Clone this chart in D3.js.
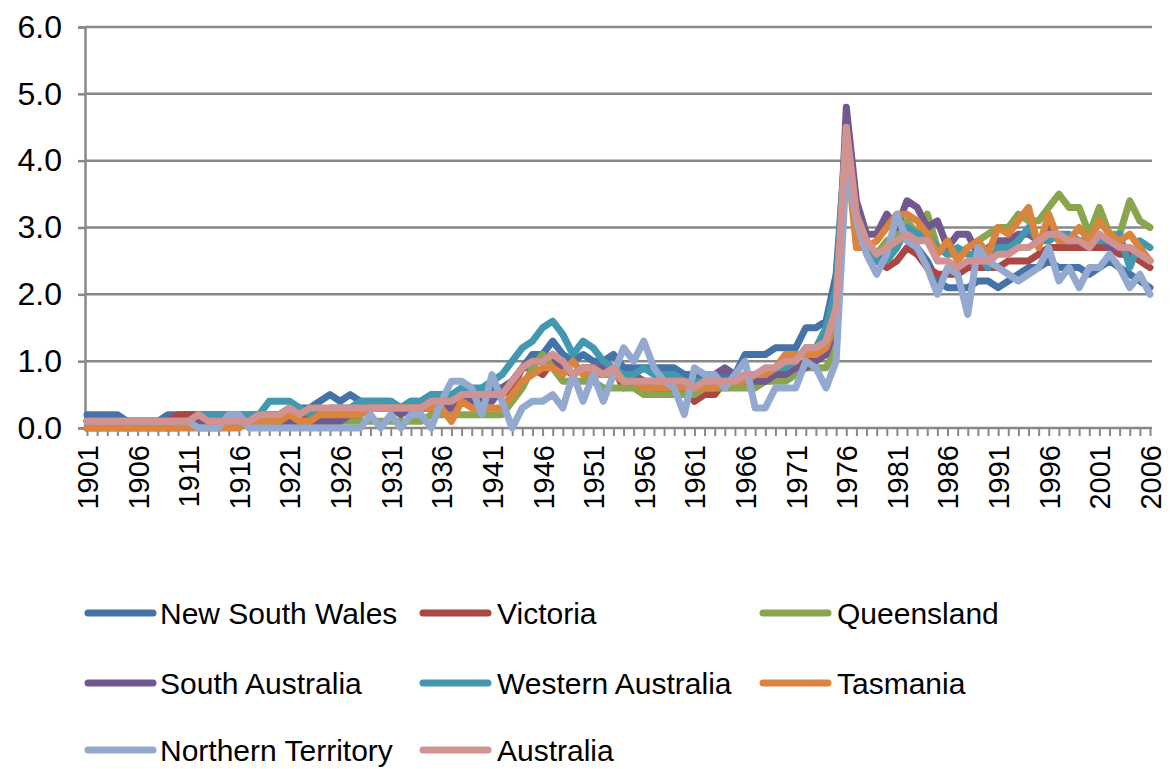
<!DOCTYPE html>
<html>
<head>
<meta charset="utf-8">
<script src="https://d3js.org/d3.v7.min.js"></script>
<style>
  body { margin: 0; padding: 0; background: #fff; }
  svg { display: block; font-family: "Liberation Sans", Arial, sans-serif; }
</style>
</head>
<body>
<div id="chart"></div>
<script>
// categories
const years = d3.range(1901, 2007);
const yearLabels = [1901, 1906, 1911, 1916, 1921, 1926, 1931, 1936, 1941, 1946, 1951,
  1956, 1961, 1966, 1971, 1976, 1981, 1986, 1991, 1996, 2001, 2006];
const yTicks = [0, 1, 2, 3, 4, 5, 6];

// series values, 1901-2006
const newSouthWales = [
  0.2,0.2,0.2,0.2,0.1,0.1,0.1,0.1,0.2,0.2,
  0.2,0.2,0.2,0.2,0.2,0.2,0.2,0.2,0.2,0.2,
  0.3,0.3,0.3,0.4,0.5,0.4,0.5,0.4,0.4,0.4,
  0.4,0.3,0.4,0.4,0.5,0.5,0.5,0.5,0.5,0.6,
  0.6,0.6,0.7,0.9,1.1,1.1,1.3,1.1,1.0,1.1,
  1.0,1.0,1.1,0.9,0.9,0.9,0.9,0.9,0.9,0.8,
  0.8,0.8,0.8,0.8,0.8,1.1,1.1,1.1,1.2,1.2,
  1.2,1.5,1.5,1.6,2.3,4.4,3.3,2.8,2.5,2.6,
  2.8,2.9,2.7,2.5,2.2,2.1,2.1,2.1,2.2,2.2,
  2.1,2.2,2.3,2.4,2.4,2.5,2.4,2.4,2.4,2.3,
  2.4,2.5,2.4,2.3,2.2,2.1];
const victoria = [
  0.1,0.1,0.1,0.1,0.1,0.1,0.1,0.1,0.1,0.2,
  0.2,0.2,0.2,0.2,0.2,0.1,0.1,0.2,0.2,0.2,
  0.2,0.2,0.2,0.2,0.2,0.2,0.3,0.3,0.3,0.3,
  0.3,0.3,0.3,0.3,0.3,0.3,0.3,0.4,0.4,0.5,
  0.5,0.5,0.6,0.9,0.9,0.8,1.0,0.9,0.8,0.9,
  0.9,0.8,0.9,0.6,0.7,0.7,0.7,0.7,0.7,0.6,
  0.4,0.5,0.5,0.7,0.7,0.7,0.7,0.8,0.8,0.9,
  0.9,1.0,1.0,1.2,1.5,4.3,3.2,2.8,2.5,2.4,
  2.5,2.7,2.6,2.4,2.3,2.3,2.3,2.4,2.4,2.4,
  2.4,2.5,2.5,2.5,2.6,2.7,2.7,2.7,2.7,2.7,
  2.7,2.7,2.6,2.6,2.5,2.4];
const queensland = [
  0.0,0.0,0.0,0.0,0.0,0.0,0.0,0.0,0.0,0.0,
  0.1,0.1,0.1,0.1,0.1,0.1,0.1,0.1,0.1,0.1,
  0.1,0.1,0.1,0.1,0.1,0.1,0.1,0.1,0.1,0.1,
  0.1,0.1,0.1,0.1,0.2,0.2,0.2,0.2,0.2,0.2,
  0.2,0.2,0.4,0.6,0.9,1.1,0.9,0.7,0.7,0.7,
  0.7,0.6,0.6,0.6,0.6,0.5,0.5,0.5,0.5,0.5,
  0.5,0.6,0.6,0.6,0.6,0.6,0.6,0.7,0.7,0.7,
  0.8,0.9,0.9,0.9,1.2,4.3,3.2,2.8,2.6,2.8,
  2.9,3.1,2.9,3.2,2.7,2.6,2.6,2.7,2.8,2.9,
  3.0,3.0,3.2,3.1,3.1,3.3,3.5,3.3,3.3,2.9,
  3.3,2.9,2.9,3.4,3.1,3.0];
const southAustralia = [
  0.0,0.1,0.1,0.1,0.1,0.1,0.1,0.1,0.0,0.1,
  0.1,0.1,0.1,0.1,0.1,0.1,0.1,0.1,0.1,0.1,
  0.1,0.1,0.1,0.1,0.1,0.1,0.2,0.2,0.3,0.3,
  0.3,0.2,0.3,0.3,0.3,0.3,0.3,0.4,0.4,0.4,
  0.4,0.6,0.7,0.9,1.0,1.0,1.1,0.9,0.8,0.9,
  0.9,0.9,0.9,0.8,0.8,0.7,0.6,0.6,0.6,0.6,
  0.7,0.7,0.8,0.9,0.8,0.7,0.7,0.7,0.8,0.8,
  0.9,0.9,1.0,1.1,1.5,4.8,3.4,2.9,2.9,3.2,
  3.0,3.4,3.3,3.0,3.1,2.7,2.9,2.9,2.6,2.7,
  2.8,2.8,2.9,2.9,2.8,3.0,2.8,2.8,2.8,2.7,
  2.9,2.7,2.7,2.7,2.6,2.5];
const westernAustralia = [
  0.1,0.1,0.1,0.1,0.1,0.1,0.1,0.1,0.1,0.1,
  0.1,0.2,0.2,0.2,0.2,0.2,0.2,0.2,0.4,0.4,
  0.4,0.3,0.2,0.2,0.3,0.3,0.3,0.4,0.4,0.4,
  0.4,0.3,0.4,0.4,0.5,0.5,0.5,0.6,0.6,0.6,
  0.7,0.8,1.0,1.2,1.3,1.5,1.6,1.4,1.1,1.3,
  1.2,1.0,0.9,0.8,0.8,0.9,0.8,0.8,0.8,0.7,
  0.7,0.7,0.7,0.7,0.7,0.8,0.8,0.8,0.9,0.9,
  1.0,1.2,1.2,1.5,2.1,4.4,3.2,2.7,2.5,2.5,
  2.7,3.0,2.9,2.9,2.7,2.6,2.7,2.6,2.6,2.4,
  2.7,2.7,2.8,3.0,2.8,2.8,2.9,2.9,2.8,2.8,
  2.8,2.8,2.9,2.4,2.8,2.7];
const tasmania = [
  0.0,0.0,0.0,0.0,0.0,0.0,0.0,0.0,0.0,0.0,
  0.0,0.0,0.0,0.0,0.0,0.0,0.1,0.1,0.1,0.1,
  0.2,0.1,0.1,0.2,0.2,0.2,0.2,0.2,0.3,0.3,
  0.3,0.3,0.3,0.3,0.3,0.3,0.1,0.4,0.3,0.3,
  0.3,0.3,0.5,0.7,0.8,0.9,0.9,0.8,1.0,0.8,
  0.8,0.8,0.8,0.7,0.7,0.6,0.6,0.6,0.6,0.6,
  0.6,0.6,0.6,0.7,0.7,0.7,0.8,0.8,0.9,1.1,
  1.1,1.1,1.1,1.2,1.6,4.2,2.7,2.7,2.8,3.0,
  3.2,3.2,3.1,2.9,2.6,2.8,2.5,2.7,2.8,2.6,
  3.0,2.9,3.1,3.3,2.7,3.2,2.8,2.8,3.0,2.8,
  3.1,2.9,2.8,2.9,2.7,2.5];
const northernTerritory = [
  0.1,0.1,0.1,0.1,0.1,0.1,0.1,0.1,0.1,0.1,
  0.1,0.0,0.0,0.0,0.2,0.2,0.0,0.0,0.0,0.0,
  0.0,0.0,0.0,0.0,0.0,0.0,0.0,0.0,0.2,0.0,
  0.2,0.0,0.2,0.2,0.0,0.4,0.7,0.7,0.6,0.2,
  0.8,0.4,0.0,0.3,0.4,0.4,0.5,0.3,0.8,0.4,
  0.8,0.4,0.8,1.2,1.0,1.3,0.9,0.7,0.6,0.2,
  0.9,0.8,0.8,0.6,0.8,1.0,0.3,0.3,0.6,0.6,
  0.6,1.0,0.9,0.6,1.0,3.9,3.1,2.6,2.3,2.6,
  3.2,2.8,2.7,2.4,2.0,2.4,2.3,1.7,2.7,2.5,
  2.4,2.3,2.2,2.3,2.4,2.7,2.2,2.4,2.1,2.4,
  2.4,2.6,2.4,2.1,2.3,2.0];
const australia = [
  0.1,0.1,0.1,0.1,0.1,0.1,0.1,0.1,0.1,0.1,
  0.1,0.2,0.1,0.1,0.1,0.1,0.1,0.2,0.2,0.2,
  0.3,0.2,0.3,0.3,0.3,0.3,0.3,0.3,0.3,0.3,
  0.3,0.3,0.3,0.3,0.4,0.4,0.4,0.5,0.5,0.5,
  0.5,0.5,0.7,0.9,1.0,1.0,1.1,1.0,0.8,0.9,
  0.9,0.8,0.9,0.7,0.7,0.7,0.7,0.7,0.7,0.7,
  0.6,0.7,0.7,0.7,0.7,0.8,0.8,0.9,0.9,1.0,
  1.0,1.2,1.2,1.3,1.8,4.5,3.2,2.8,2.6,2.7,
  2.8,2.9,2.8,2.8,2.5,2.5,2.4,2.5,2.5,2.5,
  2.6,2.6,2.7,2.7,2.8,2.9,2.9,2.8,2.8,2.7,
  2.9,2.8,2.7,2.7,2.6,2.5];

const seriesNames = ["New South Wales", "Victoria", "Queensland", "South Australia",
  "Western Australia", "Tasmania", "Northern Territory", "Australia"];
const seriesValues = [newSouthWales, victoria, queensland, southAustralia,
  westernAustralia, tasmania, northernTerritory, australia];
const seriesColors = ["#4572A7", "#AA4643", "#89A54E", "#71588F",
  "#4198AF", "#DB843D", "#93A9CF", "#D19392"];

const W = 1172, H = 769;
const svg = d3.select("#chart").append("svg")
  .attr("width", W).attr("height", H);

const x = d3.scalePoint().domain(years).range([87, 1150]);
const y = d3.scaleLinear().domain([0, 6]).range([428, 27]);
const axisColor = "#888888";

// gridlines
svg.append("g")
  .selectAll("line")
  .data(yTicks.slice(1))
  .join("line")
  .attr("x1", 85).attr("x2", 1152)
  .attr("y1", d => y(d)).attr("y2", d => y(d))
  .attr("stroke", axisColor).attr("stroke-width", 2.5);

// y axis
const yAxis = svg.append("g")
  .attr("transform", "translate(85,0)")
  .call(d3.axisLeft(y).tickValues(yTicks).tickFormat(d3.format(".1f")).tickSize(7).tickPadding(16));
yAxis.select(".domain").attr("stroke", axisColor).attr("stroke-width", 2.5);
yAxis.selectAll(".tick line").attr("stroke", axisColor).attr("stroke-width", 2.5);
yAxis.selectAll("text").attr("fill", "#000").style("font-size", "32px");

// x axis
const xAxis = svg.append("g")
  .attr("transform", "translate(0,428)")
  .call(d3.axisBottom(x).tickSize(8)
    .tickFormat(d => yearLabels.includes(d) ? String(d) : ""));
xAxis.select(".domain").attr("d", "M85,0H1152").attr("stroke", axisColor).attr("stroke-width", 2.5);
xAxis.selectAll(".tick line").attr("stroke", axisColor).attr("stroke-width", 2);
xAxis.selectAll("text")
  .attr("fill", "#000")
  .style("font-size", "29px")
  .attr("transform", "rotate(-90)")
  .attr("x", -17).attr("y", 0).attr("dy", "0.36em")
  .style("text-anchor", "end");

// lines
const line = d3.line()
  .x((d, i) => x(years[i]))
  .y(d => y(d));

svg.append("g")
  .selectAll("path")
  .data(seriesValues)
  .join("path")
  .attr("fill", "none")
  .attr("stroke", (d, i) => seriesColors[i])
  .attr("stroke-width", 7)
  .attr("stroke-linejoin", "round")
  .attr("stroke-linecap", "round")
  .attr("d", line);

// legend
const legendCols = [85, 420, 760];
const legendRows = [613, 683, 750];
const legend = svg.append("g")
  .selectAll("g")
  .data(seriesNames)
  .join("g")
  .attr("transform", (d, i) => `translate(${legendCols[i % 3]},${legendRows[Math.floor(i / 3)]})`);
legend.append("line")
  .attr("x1", 3).attr("x2", 68)
  .attr("stroke", (d, i) => seriesColors[i])
  .attr("stroke-width", 7)
  .attr("stroke-linecap", "round");
legend.append("text")
  .attr("x", (d, i) => i % 3 === 0 ? 75 : 77)
  .attr("dy", "0.36em")
  .style("font-size", "30px")
  .attr("fill", "#000")
  .text(d => d);
</script>
</body>
</html>
